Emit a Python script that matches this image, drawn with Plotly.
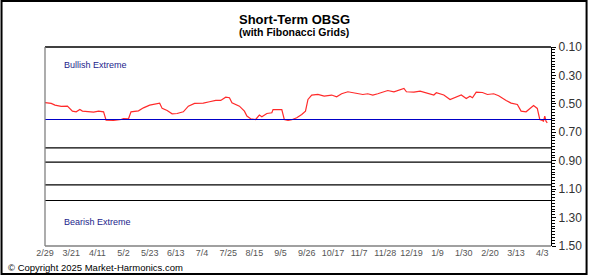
import pandas as pd
import plotly.graph_objects as go

# ---- data ----
start_date = "2024-02-29"
day_offsets = [0, 5, 8, 13, 18, 22, 25, 28, 30, 34, 39, 43, 47, 49, 55, 61, 63, 67, 69, 75,
               79, 84, 88, 92, 94, 98, 102, 106, 111, 115, 120, 127, 132, 137, 141, 145, 148, 150, 156, 160,
               162, 165, 169, 172, 174, 178, 182, 183, 190, 192, 195, 198, 202, 206, 209, 211, 214, 219, 224, 230,
               234, 238, 243, 247, 251, 255, 259, 263, 267, 271, 275, 280, 285, 288, 290, 296, 301, 306, 312, 314,
               320, 325, 330, 334, 338, 341, 343, 346, 351, 355, 360, 364, 370, 374, 379, 382, 386, 388, 392, 395,
               397, 399, 400, 401, 402, 403]
obsg = [0.492, 0.497, 0.509, 0.518, 0.516, 0.551, 0.556, 0.540, 0.551, 0.554, 0.558, 0.551, 0.556, 0.615, 0.617, 0.610, 0.603, 0.605, 0.556, 0.549,
        0.528, 0.509, 0.500, 0.495, 0.532, 0.547, 0.570, 0.568, 0.556, 0.516, 0.497, 0.495, 0.485, 0.476, 0.476, 0.453, 0.457, 0.492, 0.516, 0.551,
        0.586, 0.605, 0.610, 0.579, 0.591, 0.568, 0.563, 0.540, 0.540, 0.610, 0.617, 0.612, 0.598, 0.575, 0.551, 0.469, 0.438, 0.434, 0.446, 0.438,
        0.450, 0.429, 0.415, 0.422, 0.427, 0.434, 0.429, 0.438, 0.429, 0.420, 0.406, 0.415, 0.403, 0.392, 0.415, 0.417, 0.410, 0.422, 0.438, 0.422,
        0.438, 0.469, 0.453, 0.438, 0.462, 0.446, 0.457, 0.417, 0.420, 0.434, 0.429, 0.443, 0.476, 0.495, 0.504, 0.551, 0.556, 0.540, 0.511, 0.532,
        0.610, 0.617, 0.622, 0.586, 0.622, 0.633]
grid_levels = [0.61, 0.81, 0.91, 1.07, 1.18]
grid_colors = ["#0000c8", "#000000", "#000000", "#000000", "#000000"]
y_ticks = [0.10, 0.30, 0.50, 0.70, 0.90, 1.10, 1.30, 1.50]
x_tick_dates = pd.date_range("2024-02-29", periods=20, freq="21D")
x_range = ["2024-02-29", "2025-04-10"]

dates = pd.Timestamp(start_date) + pd.to_timedelta(day_offsets, unit="D")
FONT = "Liberation Sans, Arial, sans-serif"

fig = go.Figure()
fig.add_trace(go.Scatter(x=dates, y=obsg, mode="lines",
                         line=dict(color="#ff2a2a", width=1.2), showlegend=False))

for lvl, col in zip(grid_levels, grid_colors):
    fig.add_shape(type="line", xref="paper", yref="y", x0=0, x1=1, y0=lvl, y1=lvl,
                  line=dict(color=col, width=1.2))

# plot frame: top black, left & bottom grey
fig.add_shape(type="line", xref="paper", yref="paper", x0=0, x1=1, y0=1, y1=1,
              line=dict(color="#000000", width=1.3))
fig.add_shape(type="line", xref="paper", yref="paper", x0=0, x1=0, y0=0, y1=1,
              line=dict(color="#808080", width=1.3))
fig.add_shape(type="line", xref="paper", yref="paper", x0=0, x1=1, y0=0, y1=0,
              line=dict(color="#808080", width=1.3))
# outer border
fig.add_shape(type="rect", xref="paper", yref="paper",
              x0=-0.0859, x1=1.0703, y0=-0.1407, y1=1.2312,
              line=dict(color="#000000", width=2))

fig.add_annotation(text="<b>Short-Term OBSG</b>", xref="paper", yref="paper",
                   x=0.4929, y=1.1407, showarrow=False, xanchor="center", yanchor="middle",
                   font=dict(family=FONT, size=13, color="#000000"))
fig.add_annotation(text="<b>(with Fibonacci Grids)</b>", xref="paper", yref="paper",
                   x=0.4929, y=1.0754, showarrow=False, xanchor="center", yanchor="middle",
                   font=dict(family=FONT, size=10.5, color="#000000"))
fig.add_annotation(text="Bullish Extreme", xref="paper", yref="paper",
                   x=0.0332, y=0.9095, showarrow=False, xanchor="left", yanchor="middle",
                   font=dict(family=FONT, size=9, color="#1c1c8c"))
fig.add_annotation(text="Bearish Extreme", xref="paper", yref="paper",
                   x=0.0332, y=0.1206, showarrow=False, xanchor="left", yanchor="middle",
                   font=dict(family=FONT, size=9, color="#1c1c8c"))
fig.add_annotation(text="© Copyright 2025 Market-Harmonics.com", xref="paper", yref="paper",
                   x=-0.0762, y=-0.108, showarrow=False, xanchor="left", yanchor="middle",
                   font=dict(family=FONT, size=9.5, color="#000000"))

fig.update_layout(
    width=594, height=275,
    margin=dict(l=45, r=37, t=47, b=29, pad=0),
    paper_bgcolor="white", plot_bgcolor="white",
    font=dict(family=FONT),
    xaxis=dict(type="date", range=x_range, tickmode="array",
               tickvals=x_tick_dates, ticktext=[f"{d.month}/{d.day}" for d in x_tick_dates],
               showgrid=False, zeroline=False, showline=False,
               ticks="", ticklen=0,
               tickfont=dict(family=FONT, size=9, color="#555555")),
    yaxis=dict(range=[1.5, 0.1], side="right", tickmode="array", tickvals=y_ticks,
               ticktext=[f"{v:.2f}" for v in y_ticks],
               showgrid=False, zeroline=False, showline=True, linecolor="#000000", linewidth=1.3,
               ticks="outside", ticklen=4, tickcolor="#000000",
               minor=dict(dtick=0.02, tick0=0.1, ticks="outside", ticklen=3, tickcolor="#000000"),
               tickfont=dict(family=FONT, size=12, color="#333333")),
)

fig.write_html("out.html")
